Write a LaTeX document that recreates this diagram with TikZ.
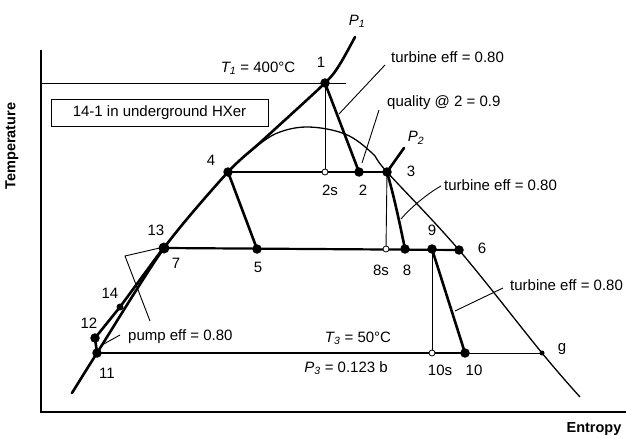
\documentclass[tikz,border=0pt]{standalone}
\usepackage{fontspec}
\setmainfont{Liberation Sans}
\begin{document}
\begin{tikzpicture}[x=1pt,y=-1pt,
  thk/.style={line width=2.6pt, line cap=round, line join=round},
  mid/.style={line width=2.2pt, line cap=round},
  thn/.style={line width=0.9pt},
  axisline/.style={line width=2.2pt},
  dot/.style={circle, fill=black, inner sep=0pt, minimum size=9.5pt},
  sdot/.style={circle, fill=black, inner sep=0pt, minimum size=5pt},
  odot/.style={circle, draw=black, fill=white, line width=0.8pt, inner sep=0pt, minimum size=6pt},
  lbl/.style={inner sep=0pt, font=\fontsize{15}{18}\selectfont},
  axlbl/.style={inner sep=0pt, font=\fontsize{14.5}{17}\selectfont\bfseries},
  ]
\useasboundingbox (0,0) rectangle (627,436);
% state points
\coordinate (p1) at (325,83);
\coordinate (p2s) at (325,172);
\coordinate (p2) at (359,172);
\coordinate (p3) at (387,172);
\coordinate (p4) at (228,172);
\coordinate (p5) at (257,249);
\coordinate (p7) at (164,248);
\coordinate (p13) at (164,247);
\coordinate (p8s) at (386,249);
\coordinate (p8) at (405,249);
\coordinate (p9) at (432,249);
\coordinate (p6) at (459,250);
\coordinate (p10s) at (432,353);
\coordinate (p10) at (465,353);
\coordinate (pg) at (542,353);
\coordinate (p11) at (97,353);
\coordinate (p12) at (95,338);
\coordinate (p14) at (120,307);
% curve ends
\coordinate (liqA) at (72,393);
\coordinate (domeA) at (250,152);
\coordinate (P1end) at (355,37);
\coordinate (P2end) at (404,148);
\coordinate (domeEnd) at (580,397);
% axes
\coordinate (axT) at (41,50);
\coordinate (axO) at (41,412);
\coordinate (axR) at (626,412);
\draw[axisline] (axT) -- (axO) -- (axR);
% T1 line
\coordinate (t1A) at (41,83);
\coordinate (t1B) at (346,83);
\draw[thn] (t1A) -- (t1B);
% dome
\draw[thn, line width=1.3pt] plot[smooth, tension=0.6] coordinates {(domeA) (275,134) (307,127) (345,134) (372,153) (p3) (p6) (pg) (domeEnd)};
% liquid line and P1
\draw[thk] plot[smooth, tension=0.45] coordinates {(liqA) (p11) (p7) (p4) (263,140) (p1) (340,64) (P1end)};
% P2
\draw[thk] (p3) -- (P2end);
% processes
\draw[thk] (p1) -- (p2);
\draw[thk] (p4) -- (p3);
\draw[thk] (p3) .. controls (395,200) and (400,225) .. (p8);
\draw[thk] (p4) -- (p5);
\draw[mid] (p7) -- (p6);
\draw[thk] (p9) -- (p10);
\draw[mid] (p11) -- (p10);
\draw[thn] (p10) -- (pg);
\draw[thk] (p11) -- (p12) -- (p14) -- (p13);
% isentropic verticals
\draw[thn] (p1) -- (p2s);
\draw[thn] (p3) -- (p8s);
\draw[thn] (p9) -- (p10s);
% pump bracket
\coordinate (bk1) at (125,256);
\coordinate (bk2) at (150,321);
\draw[thn] (p13) -- (bk1) -- (bk2);
% leaders
\coordinate (ltA) at (385,65);
\coordinate (ltB) at (339,114);
\draw[thn] (ltA) -- (ltB);
\coordinate (lqA) at (379,110);
\coordinate (lqB) at (362,163);
\draw[thn] (lqA) -- (lqB);
\coordinate (lmA) at (441,186);
\coordinate (lmB) at (401,219);
\draw[thn] (lmA) .. controls (430,192) and (412,206) .. (lmB);
\coordinate (llA) at (503,288);
\coordinate (llB) at (455,311);
\draw[thn] (llA) -- (llB);
\coordinate (lpA) at (120,335);
\coordinate (lpB) at (102,345);
\draw[thn] (lpA) -- (lpB);
% dots
\node[dot] (d1) at (p1) {};
\node[dot] (d2) at (p2) {};
\node[dot] (d3) at (p3) {};
\node[dot] (d4) at (p4) {};
\node[dot] (d5) at (p5) {};
\node[dot, minimum size=11pt] (d7) at (p7) {};
\node[dot] (d8) at (p8) {};
\node[dot] (d9) at (p9) {};
\node[dot] (d6) at (p6) {};
\node[dot] (d10) at (p10) {};
\node[dot] (d11) at (p11) {};
\node[dot] (d12) at (p12) {};
\node[dot, minimum size=7pt] (d14) at (p14) {};
\node[sdot] (dg) at (pg) {};
\node[odot] (d2s) at (p2s) {};
\node[odot] (d8s) at (p8s) {};
\node[odot] (d10s) at (p10s) {};
% box
\node[draw, line width=0.9pt, minimum width=217pt, minimum height=27pt, inner sep=0pt, font=\fontsize{15}{18}\selectfont] (box) at (159.5,112.5) {14-1 in underground HXer};
% labels
\node[lbl] (L1) at (321,62) {1};
\node[lbl] (L2s) at (330,190) {2s};
\node[lbl] (L2) at (363,190) {2};
\node[lbl] (L3) at (411,171) {3};
\node[lbl] (L4) at (211,160) {4};
\node[lbl] (L5) at (258,267) {5};
\node[lbl] (L6) at (482,248) {6};
\node[lbl] (L7) at (176,263) {7};
\node[lbl] (L8s) at (381,270) {8s};
\node[lbl] (L8) at (407,270) {8};
\node[lbl] (L9) at (432,230) {9};
\node[lbl] (L10s) at (440,370) {10s};
\node[lbl] (L10) at (474,370) {10};
\node[lbl] (L11) at (107,373) {11};
\node[lbl] (L12) at (89,323) {12};
\node[lbl] (L13) at (156,230) {13};
\node[lbl] (L14) at (110,293) {14};
\node[lbl] (Lg) at (562,349) {g};
\node[lbl] (LP1) at (357,21) {\itshape P\textsubscript{1}};
\node[lbl] (LP2) at (416,138) {\itshape P\textsubscript{2}};
\node[lbl] (LT1) at (258,68) {{\itshape T\textsubscript{1}} = 400°C};
\node[lbl] (LT3) at (358,338) {{\itshape T\textsubscript{3}} = 50°C};
\node[lbl] (LP3) at (346,368) {{\itshape P\textsubscript{3}} = 0.123 b};
\node[lbl, anchor=west] (Lte1) at (391,57) {turbine eff = 0.80};
\node[lbl, anchor=west] (Lq) at (387,103) {quality @ 2 = 0.9};
\node[lbl, anchor=west] (Lte2) at (444,185) {turbine eff = 0.80};
\node[lbl, anchor=west] (Lte3) at (510,285) {turbine eff = 0.80};
\node[lbl, anchor=west] (Lpump) at (128,337) {pump eff = 0.80};
\node[axlbl, rotate=90] (Ltemp) at (12,146) {Temperature};
\node[axlbl] (Lent) at (594,429) {Entropy};
\end{tikzpicture}
\end{document}
